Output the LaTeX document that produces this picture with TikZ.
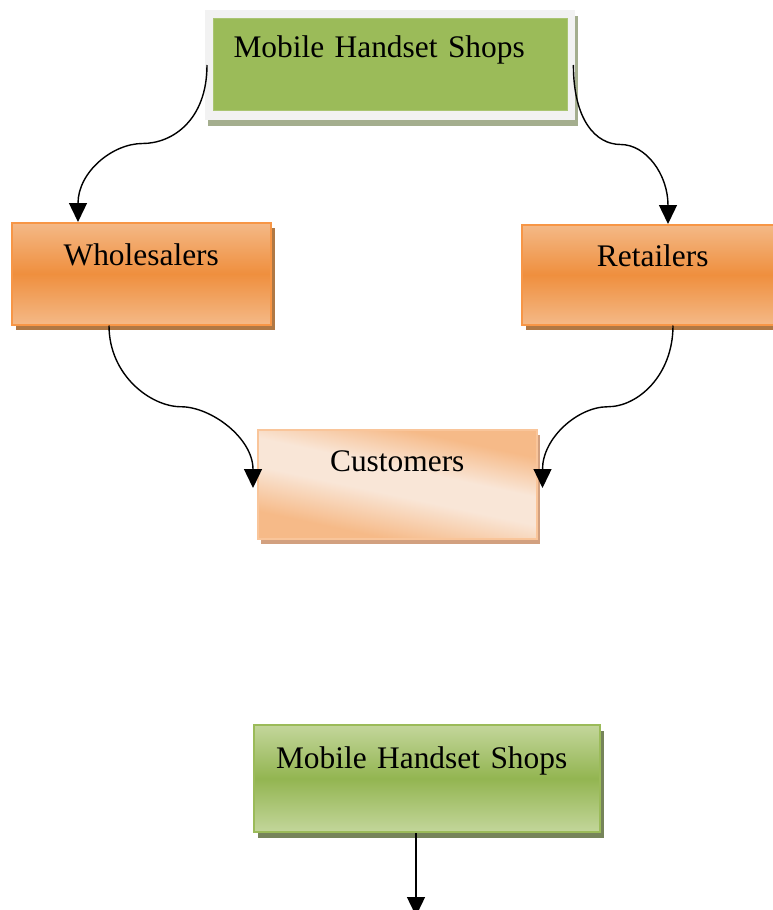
\documentclass[tikz,border=0pt]{standalone}
\usepackage{fontspec}
\setmainfont{Liberation Serif}
\usetikzlibrary{arrows.meta,shadows,calc}

\definecolor{gframe}{HTML}{F2F2F2}
\definecolor{gfill}{HTML}{9BBB59}
\definecolor{gshadow}{HTML}{A4AE8E}
\definecolor{olight}{HTML}{F4B987}
\definecolor{omid}{HTML}{EF8F3E}
\definecolor{oborder}{HTML}{F79646}
\definecolor{oshadow}{HTML}{B07844}
\definecolor{plight}{HTML}{F9E6D7}
\definecolor{pdark}{HTML}{F6BA88}
\definecolor{pborder}{HTML}{F9C59A}
\definecolor{pshadow}{HTML}{D2A07F}
\definecolor{glight}{HTML}{C3D69B}
\definecolor{gmid}{HTML}{93B551}
\definecolor{gborder}{HTML}{9BBB59}
\definecolor{gshadowdk}{HTML}{76845A}

% soft peach band with darker edges
\pgfdeclareverticalshading{peachband}{100bp}{%
  color(0bp)=(pdark); color(30bp)=(pdark); color(46bp)=(plight);
  color(56bp)=(plight); color(70bp)=(pdark); color(100bp)=(pdark)}

\begin{document}
\begin{tikzpicture}[x=1pt,y=-1pt,
  font=\fontsize{31.4}{38}\selectfont,
  box/.style={anchor=north west, inner sep=0pt, rectangle},
  tpos/.style 2 args={text height=#1pt, text depth=#2pt},
  orangebox/.style={box, top color=olight, bottom color=olight, middle color=omid,
    draw=oborder, line width=1.5pt,
    general shadow={fill=oshadow, shadow xshift=4pt, shadow yshift=-5pt}},
  link/.style={line width=1.4pt, -{Triangle[length=19pt,width=18pt]}},
]
\useasboundingbox (0,0) rectangle (772,910);

% upper supplier box: light frame with a green panel inside
\node[box, minimum width=370pt, minimum height=110pt, fill=gframe,
  general shadow={fill=gshadow, shadow xshift=3pt, shadow yshift=-6pt}]
  (topframe) at (205,10) {};
\node[box, fill=gfill, draw=gfill!85!white, line width=1pt,
  text width=314pt, align=left, inner xsep=20pt, tpos={39}{53}]
  (top) at (213,18) {Mobile Handset Shops};

% intermediaries
\node[orangebox, minimum width=259pt, tpos={43}{59}] (whole) at (11,222) {Wholesalers};
\node[orangebox, minimum width=262pt, tpos={42}{58}] (retail) at (521,224) {Retailers};

% end customers
\node[box, minimum width=279pt, tpos={42}{67},
  shading=peachband, shading angle=-12,
  draw=pborder, line width=1.5pt,
  general shadow={fill=pshadow, shadow xshift=3pt, shadow yshift=-5pt}]
  (cust) at (257,429) {Customers};

% lower supplier box
\node[box, minimum width=346pt, text width=302pt, align=left, inner xsep=22pt,
  tpos={43}{64}, top color=glight, bottom color=glight, middle color=gmid,
  draw=gborder, line width=2pt,
  general shadow={fill=gshadowdk, shadow xshift=4pt, shadow yshift=-6pt}]
  (bot) at (253,724) {Mobile Handset Shops};

% connector end points
\coordinate (tl) at ($(topframe.north west)+(2,55)$);
\coordinate (tr) at ($(topframe.north east)+(-2,55)$);
\coordinate (wt) at ($(whole.north west)+(67,0)$);
\coordinate (rt) at ($(retail.north west)+(147,0)$);
\coordinate (ws) at ($(whole.south west)+(98,0)$);
\coordinate (rs) at ($(retail.south west)+(152,0)$);
\coordinate (cl) at ($(cust.north west)+(-4,59)$);
\coordinate (cr) at ($(cust.north east)+(5,59)$);
\coordinate (bs) at ($(bot.south)+(-11,0)$);
\coordinate (be) at ($(bs)+(0,83)$);

\coordinate (m1) at ($(tl)!0.5!(wt)$);
\coordinate (m2) at ($(tr)!0.5!(rt)$);
\coordinate (m3) at ($(ws)!0.5!(cl)$);
\coordinate (m4) at ($(rs)!0.5!(cr)$);

% curved connectors
\draw[link] (tl) .. controls +(0,55) and +(30,0) .. (m1)
                 .. controls +(-30,0) and +(0,-50) .. (wt);
\draw[link] (tr) .. controls +(0,55) and +(-25,0) .. (m2)
                 .. controls +(25,0) and +(0,-50) .. (rt);
\draw[link] (ws) .. controls +(0,50) and +(-30,0) .. (m3)
                 .. controls +(30,0) and +(0,-50) .. (cl);
\draw[link] (rs) .. controls +(0,50) and +(30,0) .. (m4)
                 .. controls +(-30,0) and +(0,-50) .. (cr);

% straight connector below
\draw[link] (bs) -- (be);
\end{tikzpicture}
\end{document}
